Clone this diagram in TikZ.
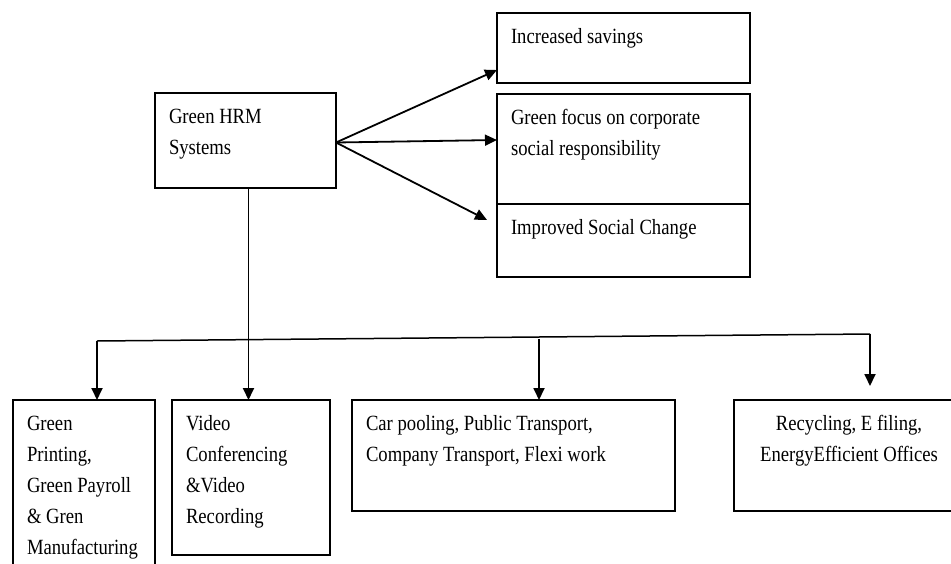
\documentclass[tikz,border=0pt]{standalone}
\usepackage{fontspec}
\setmainfont{Liberation Serif}[FakeStretch=0.86]
\usetikzlibrary{arrows.meta}
\usetikzlibrary{positioning}
\newcommand{\boxtxt}[3]{\begin{minipage}[c][#2][t]{#1}\raggedright\leftskip=14pt\rule{0pt}{30pt}#3\end{minipage}}
\newcommand{\boxtxtc}[3]{\begin{minipage}[c][#2][t]{#1}\centering\rule{0pt}{30pt}#3\end{minipage}}
\tikzset{box/.style = {draw, line width = 1.7pt, anchor = north west, inner sep = 0, outer sep = 0}}
\tikzset{arr/.style = {line width = 1.8pt, -{Triangle[length=12pt, width=11pt]}}}

\begin{document}
\begin{tikzpicture}[x=1pt, y=-1pt, font=\fontsize{21.7}{31}\selectfont]
      \clip (0, 0) rectangle (951, 563);
      \fill [white] (0, 0) rectangle (951, 563);

      \node [box] (hrm) at (155, 93) {\boxtxt{181pt}{95pt}{Green HRM\\Systems}};
      \node [box] (sav) at (497, 13) {\boxtxt{253pt}{70pt}{Increased savings}};
      \node [box] (csr) at (497, 94) {\boxtxt{253pt}{110pt}{Green focus on corporate\\social responsibility}};
      \node [box] (soc) at (497, 204) {\boxtxt{253pt}{73pt}{Improved Social Change}};

      \node [box] (print) at (13, 400) {\boxtxt{142pt}{180pt}{Green\\Printing,\\Green Payroll\\\&~Gren\\Manufacturing}};
      \node [box] (video) at (172, 400) {\boxtxt{158pt}{155pt}{Video\\Conferencing\\\&Video\\Recording}};
      \node [box] (car) at (352, 400) {\boxtxt{323pt}{111pt}{Car pooling, Public Transport,\\Company Transport, Flexi work}};
      \node [box] (recy) at (734, 400) {\boxtxtc{230pt}{111pt}{Recycling, E filing,\\EnergyEfficient Offices}};

      \coordinate (hout) at ([yshift=-2pt]hrm.east);
      \draw [arr] (hout) -- ([yshift=13pt]sav.south west);
      \draw [arr] (hout) -- ([yshift=9pt]csr.west);
      \draw [arr] (hout) -- ([xshift=-10pt, yshift=-16pt]soc.north west);

      \coordinate (hdown) at ([xshift=3pt]hrm.south);
      \draw [arr] (hdown) -- (hdown |- video.north);

      \coordinate (bl) at (97, 341);
      \coordinate (br) at (870, 334);
      \coordinate (bm) at (539, 339);
      \draw [line width = 1.5pt] (bl) -- (br);
      \draw [arr] (bl) -- (bl |- print.north);
      \draw [arr] (bm) -- (bm |- car.north);
      \draw [arr] (br) -- ([yshift=14pt]br |- recy.north);
    \end{tikzpicture}
\end{document}
